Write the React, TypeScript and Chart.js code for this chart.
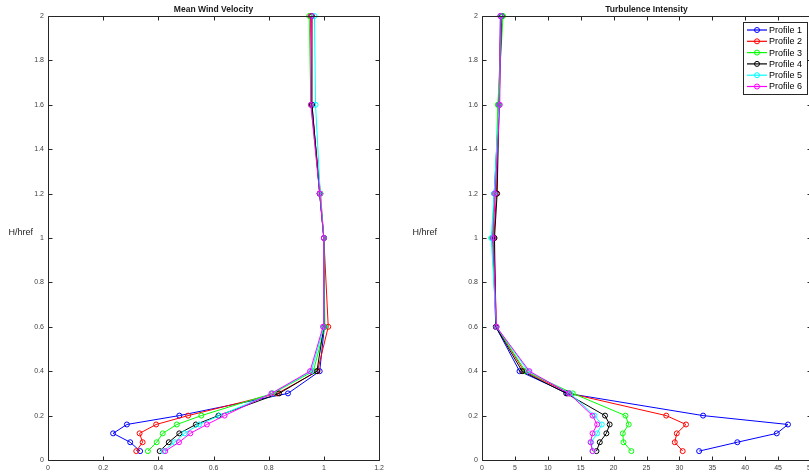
import React, { useEffect, useRef } from 'react';
import { Chart, registerables } from 'chart.js';

Chart.register(...registerables);

// ---------- data ----------
const heights = [0.04, 0.08, 0.12, 0.16, 0.2, 0.3, 0.4, 0.6, 1.0, 1.2, 1.6, 2.0];
const profileNames = ['Profile 1', 'Profile 2', 'Profile 3', 'Profile 4', 'Profile 5', 'Profile 6'];
const profileColors = ['#0000ff', '#ff0000', '#00ff00', '#000000', '#00ffff', '#ff00ff'];

const velocity1 = [0.334, 0.298, 0.236, 0.286, 0.476, 0.87, 0.985, 1.002, 1.0, 0.985, 0.957, 0.955];
const velocity2 = [0.32, 0.343, 0.332, 0.392, 0.508, 0.832, 0.977, 1.016, 1.0, 0.988, 0.955, 0.952];
const velocity3 = [0.362, 0.394, 0.416, 0.467, 0.556, 0.815, 0.962, 1.004, 1.0, 0.986, 0.953, 0.947];
const velocity4 = [0.405, 0.438, 0.476, 0.536, 0.618, 0.838, 0.975, 1.0, 1.0, 0.985, 0.957, 0.957];
const velocity5 = [0.419, 0.459, 0.495, 0.548, 0.622, 0.812, 0.955, 1.0, 1.0, 0.987, 0.97, 0.966];
const velocity6 = [0.425, 0.475, 0.516, 0.576, 0.64, 0.81, 0.95, 0.997, 1.0, 0.985, 0.953, 0.956];

const turbulence1 = [33.0, 38.8, 44.8, 46.5, 33.6, 13.0, 5.7, 2.1, 1.6, 1.85, 2.6, 2.8];
const turbulence2 = [30.5, 29.3, 29.6, 31.0, 28.0, 13.3, 6.4, 2.2, 1.8, 2.2, 2.5, 2.9];
const turbulence3 = [22.7, 21.5, 21.4, 22.3, 21.8, 13.8, 6.6, 2.2, 1.5, 2.0, 2.4, 3.2];
const turbulence4 = [17.4, 17.9, 18.9, 19.4, 18.7, 12.8, 6.1, 2.1, 1.9, 2.3, 2.6, 3.0];
const turbulence5 = [16.8, 16.6, 17.5, 18.2, 17.1, 13.4, 7.0, 2.2, 1.4, 1.85, 2.6, 2.9];
const turbulence6 = [16.8, 16.5, 16.8, 17.5, 16.8, 13.2, 7.2, 2.2, 1.7, 2.0, 2.7, 2.8];

const velocitySeries = [velocity1, velocity2, velocity3, velocity4, velocity5, velocity6];
const turbulenceSeries = [turbulence1, turbulence2, turbulence3, turbulence4, turbulence5, turbulence6];

const yLabel = 'H/href';
const velocityTitle = 'Mean Wind Velocity';
const turbulenceTitle = 'Turbulence Intensity';

const FONT = '"Liberation Sans", Arial, Helvetica, sans-serif';
const AXIS_COLOR = '#262626';

const fmt = (v: any) => String(Number(Number(v).toFixed(2)));

type PanelCfg = {
  title: string;
  series: number[][];
  xMax: number;
  xStep: number;
  yAxisWidth: number;
  padRight: number;
  yLabelRight: number;
  legend: null | { left: number; top: number; right: number; bottom: number };
};

function makePlugin(cfg: PanelCfg) {
  return {
    id: 'matlabFrame',
    afterDraw(chart: any) {
      const { ctx, chartArea: a, scales } = chart;
      const xs = scales.x;
      const ys = scales.y;
      const L = Math.round(a.left) + 0.5;
      const R = Math.round(a.right) + 0.5;
      const T = Math.round(a.top) + 0.5;
      const B = Math.round(a.bottom) + 0.5;
      ctx.save();
      ctx.strokeStyle = AXIS_COLOR;
      ctx.lineWidth = 1;
      ctx.beginPath();
      ctx.rect(L, T, R - L, B - T);
      ctx.stroke();
      const tl = 4;
      ctx.beginPath();
      xs.ticks.forEach((t: any) => {
        const px = Math.round(xs.getPixelForValue(t.value)) + 0.5;
        ctx.moveTo(px, B);
        ctx.lineTo(px, B - tl);
        ctx.moveTo(px, T);
        ctx.lineTo(px, T + tl);
      });
      ys.ticks.forEach((t: any) => {
        const py = Math.round(ys.getPixelForValue(t.value)) + 0.5;
        ctx.moveTo(L, py);
        ctx.lineTo(L + tl, py);
        ctx.moveTo(R, py);
        ctx.lineTo(R - tl, py);
      });
      ctx.stroke();

      // title
      ctx.fillStyle = '#1a1a1a';
      ctx.font = `bold 8.5px ${FONT}`;
      ctx.textAlign = 'center';
      ctx.textBaseline = 'middle';
      ctx.fillText(cfg.title, (a.left + a.right) / 2, 10);

      // y label (horizontal)
      ctx.fillStyle = '#262626';
      ctx.font = `9px ${FONT}`;
      ctx.textAlign = 'right';
      ctx.fillText(yLabel, cfg.yLabelRight, 233);

      // legend
      if (cfg.legend) {
        const lg = cfg.legend;
        ctx.fillStyle = '#ffffff';
        ctx.fillRect(lg.left, lg.top, lg.right - lg.left, lg.bottom - lg.top);
        ctx.strokeStyle = AXIS_COLOR;
        ctx.strokeRect(lg.left + 0.5, lg.top + 0.5, lg.right - lg.left, lg.bottom - lg.top);
        chart.data.datasets.forEach((ds: any, i: number) => {
          const y = lg.top + 8 + i * 11.3;
          ctx.strokeStyle = ds.borderColor;
          ctx.lineWidth = 1.2;
          ctx.beginPath();
          ctx.moveTo(lg.left + 4, y);
          ctx.lineTo(lg.left + 24, y);
          ctx.stroke();
          ctx.lineWidth = 1;
          ctx.beginPath();
          ctx.arc(lg.left + 14, y, 2.5, 0, Math.PI * 2);
          ctx.stroke();
          ctx.fillStyle = '#000000';
          ctx.font = `9px ${FONT}`;
          ctx.textAlign = 'left';
          ctx.textBaseline = 'middle';
          ctx.fillText(ds.label, lg.left + 26, y + 0.5);
        });
      }
      ctx.restore();
    },
  };
}

function buildConfig(cfg: PanelCfg): any {
  const datasets = cfg.series.map((vals, i) => ({
    label: profileNames[i],
    data: vals.map((v, j) => ({ x: v, y: heights[j] })),
    borderColor: profileColors[i],
    backgroundColor: 'rgba(0,0,0,0)',
    borderWidth: 1,
    pointRadius: 2.5,
    pointBorderWidth: 1,
    pointBackgroundColor: 'rgba(0,0,0,0)',
    pointBorderColor: profileColors[i],
    pointStyle: 'circle',
    showLine: true,
    fill: false,
    tension: 0,
    clip: false,
    order: profileNames.length - i,
  }));
  return {
    type: 'line',
    data: { datasets },
    options: {
      animation: false,
      responsive: false,
      devicePixelRatio: 1,
      layout: { padding: { top: 16, right: cfg.padRight, left: 0, bottom: 0 } },
      plugins: { legend: { display: false }, tooltip: { enabled: false }, title: { display: false } },
      scales: {
        x: {
          type: 'linear',
          min: 0,
          max: cfg.xMax,
          grid: { display: false, drawTicks: false, tickLength: 0 },
          border: { display: false },
          ticks: {
            stepSize: cfg.xStep,
            autoSkip: false,
            maxRotation: 0,
            padding: 4,
            color: '#404040',
            font: { family: FONT, size: 7 },
            callback: (v: any) => fmt(v),
          },
          afterFit: (s: any) => {
            s.height = 12;
          },
        },
        y: {
          type: 'linear',
          min: 0,
          max: 2,
          grid: { display: false, drawTicks: false, tickLength: 0 },
          border: { display: false },
          ticks: {
            stepSize: 0.2,
            autoSkip: false,
            padding: 4,
            color: '#404040',
            font: { family: FONT, size: 7 },
            callback: (v: any) => fmt(v),
          },
          afterFit: (s: any) => {
            s.width = cfg.yAxisWidth;
          },
        },
      },
    },
    plugins: [makePlugin(cfg)],
  };
}

function Panel(props: { cfg: PanelCfg; left: number; width: number }) {
  const ref = useRef<HTMLCanvasElement | null>(null);
  useEffect(() => {
    if (!ref.current) return;
    const chart = new Chart(ref.current, buildConfig(props.cfg));
    return () => chart.destroy();
  }, []);
  return (
    <canvas
      ref={ref}
      width={props.width}
      height={472}
      style={{ position: 'absolute', left: props.left, top: 0, width: props.width, height: 472 }}
    />
  );
}

const leftCfg: PanelCfg = {
  title: velocityTitle,
  series: velocitySeries,
  xMax: 1.2,
  xStep: 0.2,
  yAxisWidth: 48,
  padRight: 21,
  yLabelRight: 33,
  legend: null,
};

const rightCfg: PanelCfg = {
  title: turbulenceTitle,
  series: turbulenceSeries,
  xMax: 50,
  xStep: 5,
  yAxisWidth: 82,
  padRight: 19,
  yLabelRight: 37,
  legend: { left: 343, top: 22, right: 407, bottom: 94 },
};

export default function App() {
  return (
    <div
      style={{
        position: 'fixed',
        left: 0,
        top: 0,
        width: 809,
        height: 472,
        overflow: 'hidden',
        background: '#ffffff',
      }}
    >
      <Panel cfg={leftCfg} left={0} width={400} />
      <Panel cfg={rightCfg} left={400} width={430} />
    </div>
  );
}
